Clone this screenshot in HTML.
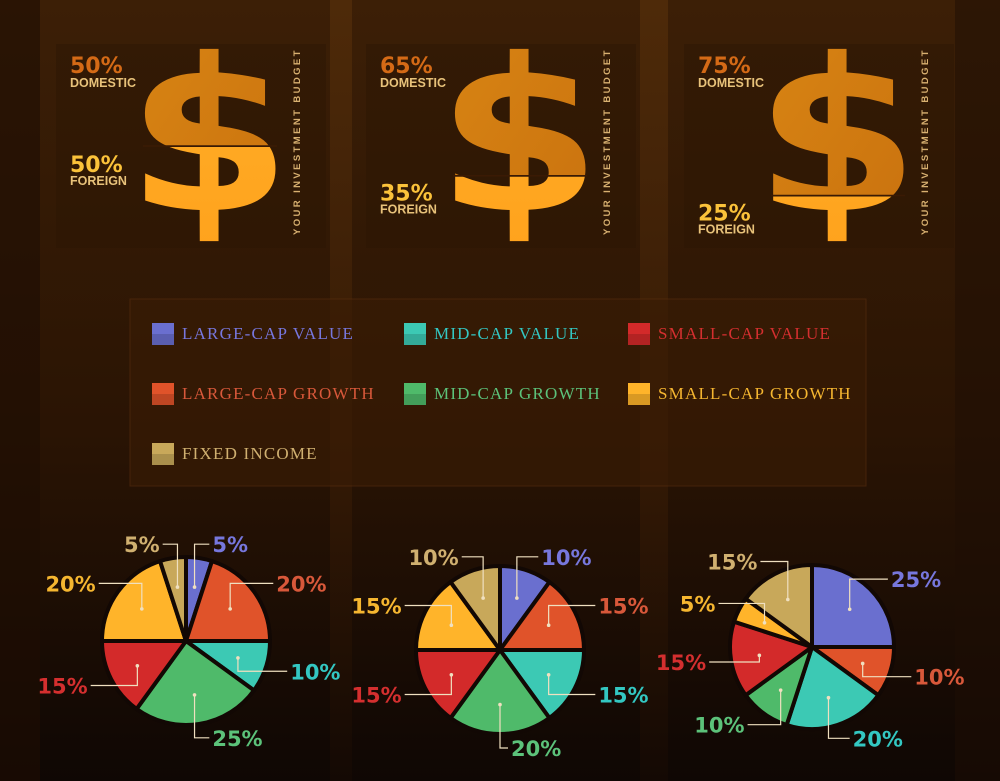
<!DOCTYPE html>
<html><head><meta charset="utf-8"><style>
html,body{margin:0;padding:0;background:#1a0d04;}
svg{display:block}
.pct{font-family:"DejaVu Sans","Liberation Sans",sans-serif;font-weight:bold;}
.lg{font-family:"Liberation Serif",serif;font-size:17px;letter-spacing:1.2px}
</style></head><body>
<svg id="chart" width="1000" height="781" viewBox="0 0 1000 781" xmlns="http://www.w3.org/2000/svg">
<defs>
<linearGradient id="bgV" x1="0" y1="0" x2="0" y2="1">
<stop offset="0" stop-color="#3c1f06"/><stop offset="0.55" stop-color="#2a1404"/><stop offset="1" stop-color="#0f0704"/>
</linearGradient>
<linearGradient id="strip" x1="0" y1="0" x2="0" y2="1">
<stop offset="0" stop-color="#4e2a09"/><stop offset="0.6" stop-color="#331905"/><stop offset="1" stop-color="#140904"/>
</linearGradient>
<linearGradient id="dom" x1="0" y1="0" x2="1" y2="1"><stop offset="0" stop-color="#d98614"/><stop offset="1" stop-color="#c8700e"/></linearGradient>
<linearGradient id="for" x1="0" y1="0" x2="0" y2="1"><stop offset="0" stop-color="#ffb02a"/><stop offset="1" stop-color="#ffa21c"/></linearGradient>
</defs>
<rect width="1000" height="781" fill="url(#bgV)"/>
<rect x="0" width="40" height="781" fill="#1e0e03" opacity="0.6"/>
<rect x="955" width="45" height="781" fill="#1e0e03" opacity="0.5"/>
<rect x="330" width="22" height="781" fill="url(#strip)"/>
<rect x="640" width="28" height="781" fill="url(#strip)"/>
<g id="dollars"></g>
<g>
<rect x="130" y="299" width="736" height="187" fill="#3a1c05" opacity="0.6" stroke="#5a2e0e" stroke-width="1"/>
<g id="legend-items"></g>
</g>
<g id="pies"></g>
</svg>
<script>
const categories=["LARGE-CAP VALUE","LARGE-CAP GROWTH","MID-CAP VALUE","MID-CAP GROWTH","SMALL-CAP VALUE","SMALL-CAP GROWTH","FIXED INCOME"];
const colors=["#6a6fcf","#e0532a","#3cc9b4","#4fba6a","#d32a2a","#ffb42a","#c8a85a"];
const labelColors=["#7777dd","#d8583a","#33c7c2","#5cc27a","#d42f2f","#f5b630","#d0b070"];
const pie1Values=[5,20,10,25,15,20,5];
const pie2Values=[10,15,15,20,15,15,10];
const pie3Values=[25,10,20,10,15,5,15];
const domesticValues=[50,65,75];
const NS="http://www.w3.org/2000/svg";
function mk(t,a,p){const e=document.createElementNS(NS,t);for(const k in a)e.setAttribute(k,a[k]);p.appendChild(e);return e;}

// dollars
const dg=document.getElementById('dollars');
const panelX=[50,360,678];
domesticValues.forEach((d,i)=>{
  const x0=panelX[i];
  const g=mk('g',{},dg);
  
  
  mk('rect',{x:x0+6,y:44,width:270,height:204,fill:'#2c1504',opacity:0.5},g);
  const top=47,bot=245;
  const split=top+(bot-top)*d/100;
  const cid='clipD'+i, cid2='clipF'+i;
  const cp=mk('clipPath',{id:cid},g);mk('rect',{x:x0,y:0,width:300,height:split},cp);
  const cp2=mk('clipPath',{id:cid2},g);mk('rect',{x:x0,y:split+1,width:300,height:400},cp2);
  const cx=x0+159;
  [[cid,'url(#dom)'],[cid2,'url(#for)']].forEach(([c,f])=>{
    const gg=mk('g',{'clip-path':'url(#'+c+')'},g);
    const t=mk('text',{x:cx,y:210,'text-anchor':'middle','font-family':'DejaVu Sans, sans-serif','font-weight':'bold','font-size':212,fill:f,transform:'translate('+cx+',0) scale(1.12,1) translate('+(-cx)+',0)'},gg);
    t.textContent='$';
    
    
  });
  mk('line',{x1:cx-66,x2:cx+68,y1:split,y2:split,stroke:'#3a1a04','stroke-width':1.5},g);
  const t1=mk('text',{x:x0+20,y:73,class:'pct','font-size':22,fill:'#d46a16'},g);t1.textContent=d+'%';
  
  const t2=mk('text',{x:x0+20,y:87,'font-family':'Liberation Sans, sans-serif','font-size':12.5,'font-weight':'bold',fill:'#e8c27a'},g);t2.textContent='DOMESTIC';
  
  const fy=Math.max(split+25,172);
  const t3=mk('text',{x:x0+20,y:fy,class:'pct','font-size':22,fill:'#fbc23a'},g);t3.textContent=(100-d)+'%';
  
  const t4=mk('text',{x:x0+20,y:fy+13,'font-family':'Liberation Sans, sans-serif','font-size':12.5,'font-weight':'bold',fill:'#e8c27a'},g);t4.textContent='FOREIGN';
  
  const t5=mk('text',{x:0,y:0,'font-family':'Liberation Sans, sans-serif','font-size':9.5,'font-weight':'bold',fill:'#d8b070','letter-spacing':2.4,transform:'translate('+(x0+250)+',235) rotate(-90)'},g);
  t5.textContent='YOUR INVESTMENT BUDGET';
  
});

// legend
const lg=document.getElementById('legend-items');
const lpos=[[152,323],[152,383],[404,323],[404,383],[628,323],[628,383],[152,443]];
categories.forEach((c,i)=>{
  const g=mk('g',{},lg);
  
  
  const [x,y]=lpos[i];
  mk('rect',{x:x,y:y,width:22,height:22,fill:colors[i]},g);
  mk('rect',{x:x,y:y+11,width:22,height:11,fill:'#000',opacity:0.15},g);
  const t=mk('text',{x:x+30,y:y+16,class:'lg',fill:labelColors[i]},g);t.textContent=c;
});

// pies
const pg=document.getElementById('pies');
function drawPie(vals,cx,cy,r,name){
  const g=mk('g',{},pg);
  
  
  const lbl=mk('g',{},pg);
  const tot=vals.reduce((a,b)=>a+b,0);
  let a0=-Math.PI/2;
  vals.forEach((v,i)=>{
    const a1=a0+v/tot*2*Math.PI;
    const p=(a)=>[cx+r*Math.cos(a),cy+r*Math.sin(a)];
    const [x0,y0]=p(a0),[x1,y1]=p(a1);
    const large=(a1-a0)>Math.PI?1:0;
    const s=mk('path',{d:`M${cx},${cy}L${x0},${y0}A${r},${r} 0 ${large} 1 ${x1},${y1}Z`,fill:colors[i],stroke:'#120804','stroke-width':4,'stroke-linejoin':'round'},g);
    
    
    const am=(a0+a1)/2;
    const c=Math.cos(am), sn=Math.sin(am);
    const ix=cx+r*0.65*c, iy=cy+r*0.65*sn;
    const ox=cx+(r+14)*c, oy=cy+(r+14)*sn;
    const right=c>=0;
    const ex=right?ox+8:ox-8;
    mk('polyline',{points:`${ix},${iy} ${ix},${oy} ${ex},${oy}`,fill:'none',stroke:'#f0e0c0','stroke-width':1.2},lbl);
    mk('circle',{cx:ix,cy:iy,r:1.8,fill:'#f0e0c0'},lbl);
    const t=mk('text',{x:right?ex+3:ex-3,y:oy+8,'text-anchor':right?'start':'end',class:'pct','font-size':21,fill:labelColors[i]},lbl);
    t.textContent=v+'%';
    
    
    a0=a1;
  });
}
drawPie(pie1Values,186,641,84,'pie-chart-1');
drawPie(pie2Values,500,650,84,'pie-chart-2');
drawPie(pie3Values,812,647,82,'pie-chart-3');
</script>
</body></html>
